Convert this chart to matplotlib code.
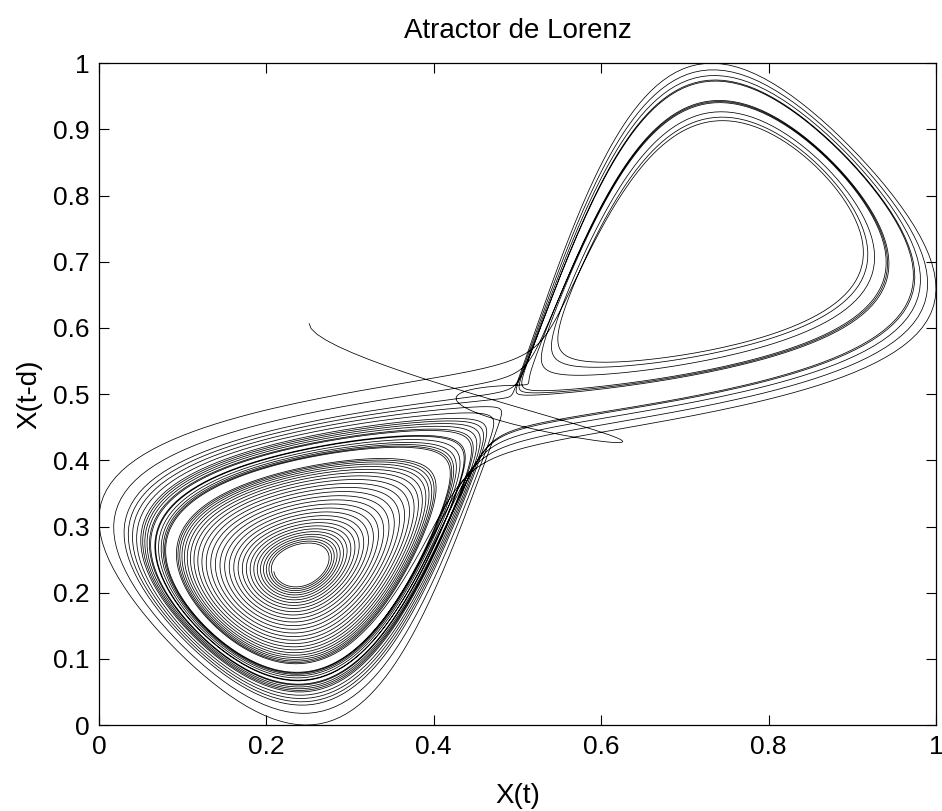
import numpy as np
import matplotlib.pyplot as plt

# Lorenz system: transient chaos, then it spirals into the left fixed point
sigma = 10
rho = 21
beta = 8/3
x_start, y_start, z_start = -7, -7, 100
dt = 0.005
t_end = 50
delay = 30          # samples, d = 0.15

x_ticks = [0, 0.2, 0.4, 0.6, 0.8, 1]
y_ticks = [0, 0.1, 0.2, 0.3, 0.4, 0.5, 0.6, 0.7, 0.8, 0.9, 1]


def lorenz(s, sigma, rho, beta):
    x, y, z = s
    return np.array([sigma*(y-x), x*(rho-z)-y, x*y-beta*z])


# RK4
n = int(t_end/dt)
xs = np.empty(n)
s = np.array([x_start, y_start, z_start], float)
for i in range(n):
    xs[i] = s[0]
    k1 = lorenz(s, sigma, rho, beta)
    k2 = lorenz(s+dt/2*k1, sigma, rho, beta)
    k3 = lorenz(s+dt/2*k2, sigma, rho, beta)
    k4 = lorenz(s+dt*k3, sigma, rho, beta)
    s = s + dt/6*(k1+2*k2+2*k3+k4)

# normalise to [0, 1]
xn = (xs-xs.min())/(xs.max()-xs.min())

plt.rcParams['font.family'] = ['Liberation Sans', 'DejaVu Sans']
fig = plt.figure(figsize=(9.42, 8.11), dpi=100)
ax = fig.add_axes([0.105, 0.106, 0.8886, 0.816])
ax.plot(xn[:-delay], xn[delay:], color='k', lw=0.55)

ax.set_xlim(0, 1)
ax.set_ylim(0, 1)
ax.set_xticks(x_ticks)
ax.set_yticks(y_ticks)
ax.set_xticklabels([f'{v:g}' for v in x_ticks])
ax.set_yticklabels([f'{v:g}' for v in y_ticks])
ax.tick_params(direction='in', length=7, width=0.8, top=True, right=True,
               labelsize=19, pad=7)
for sp in ax.spines.values():
    sp.set_linewidth(0.9)

ax.set_title('Atractor de Lorenz', fontsize=20, pad=18)
ax.set_xlabel('X(t)', fontsize=20)
ax.set_ylabel('X(t-d)', fontsize=20)
ax.xaxis.set_label_coords(0.5, -0.087)
ax.yaxis.set_label_coords(-0.068, 0.5)

fig.savefig('out.png', dpi=100)
